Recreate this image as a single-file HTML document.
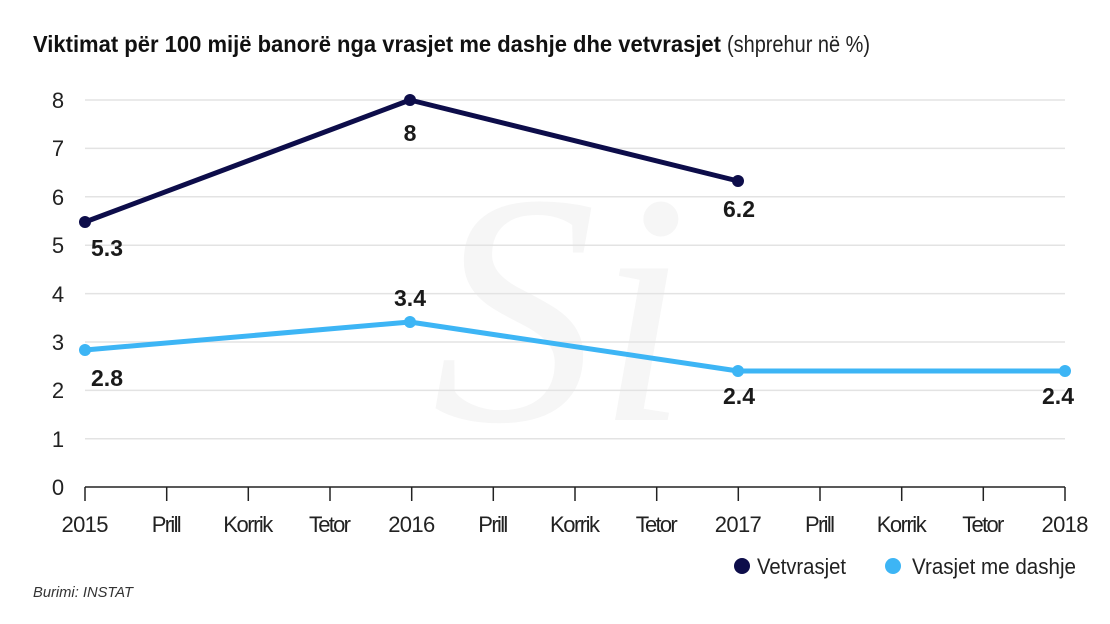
<!DOCTYPE html>
<html><head><meta charset="utf-8"><style>
body{margin:0;background:#fff;}
svg{display:block;font-family:"Liberation Sans",sans-serif;}
</style></head><body>
<svg width="1110" height="624" viewBox="0 0 1110 624">
<text x="33" y="52" font-size="23" font-weight="bold" fill="#111" textLength="688" lengthAdjust="spacingAndGlyphs">Viktimat për 100 mijë banorë nga vrasjet me dashje dhe vetvrasjet</text>
<text x="727" y="52" font-size="23" fill="#222" textLength="143" lengthAdjust="spacingAndGlyphs">(shprehur në %)</text>
<text x="560" y="420" font-size="330" font-family="Liberation Serif,serif" font-style="italic" fill="#f6f6f6" text-anchor="middle">Si</text>
<g stroke="#e3e3e3" stroke-width="1.5">
<line x1="85" x2="1065" y1="100" y2="100"/><line x1="85" x2="1065" y1="148.4" y2="148.4"/>
<line x1="85" x2="1065" y1="196.8" y2="196.8"/><line x1="85" x2="1065" y1="245.2" y2="245.2"/>
<line x1="85" x2="1065" y1="293.6" y2="293.6"/><line x1="85" x2="1065" y1="342" y2="342"/>
<line x1="85" x2="1065" y1="390.4" y2="390.4"/><line x1="85" x2="1065" y1="438.8" y2="438.8"/>
</g>
<g font-size="22" fill="#222" text-anchor="middle" lengthAdjust="spacingAndGlyphs">
<text x="58" y="108" textLength="12">8</text><text x="58" y="156" textLength="12">7</text><text x="58" y="205" textLength="12">6</text><text x="58" y="253" textLength="12">5</text>
<text x="58" y="302" textLength="12">4</text><text x="58" y="350" textLength="12">3</text><text x="58" y="398" textLength="12">2</text><text x="58" y="447" textLength="12">1</text><text x="58" y="495" textLength="12">0</text>
</g>
<g stroke="#222" stroke-width="1.5">
<line x1="85" x2="1065" y1="487" y2="487"/>
<line x1="85" x2="85" y1="487" y2="501"/><line x1="166.7" x2="166.7" y1="487" y2="501"/><line x1="248.3" x2="248.3" y1="487" y2="501"/><line x1="330" x2="330" y1="487" y2="501"/>
<line x1="411.7" x2="411.7" y1="487" y2="501"/><line x1="493.3" x2="493.3" y1="487" y2="501"/><line x1="575" x2="575" y1="487" y2="501"/><line x1="656.7" x2="656.7" y1="487" y2="501"/>
<line x1="738.3" x2="738.3" y1="487" y2="501"/><line x1="820" x2="820" y1="487" y2="501"/><line x1="901.7" x2="901.7" y1="487" y2="501"/><line x1="983.3" x2="983.3" y1="487" y2="501"/><line x1="1065" x2="1065" y1="487" y2="501"/>
</g>
<g font-size="22" fill="#222" text-anchor="middle" lengthAdjust="spacingAndGlyphs">
<text x="85" y="532" textLength="47">2015</text><text x="166.7" y="532" textLength="30">Prill</text><text x="248.3" y="532" textLength="50">Korrik</text><text x="330" y="532" textLength="42">Tetor</text>
<text x="411.7" y="532" textLength="47">2016</text><text x="493.3" y="532" textLength="30">Prill</text><text x="575" y="532" textLength="50">Korrik</text><text x="656.7" y="532" textLength="42">Tetor</text>
<text x="738.3" y="532" textLength="47">2017</text><text x="820" y="532" textLength="30">Prill</text><text x="901.7" y="532" textLength="50">Korrik</text><text x="983.3" y="532" textLength="42">Tetor</text><text x="1065" y="532" textLength="47">2018</text>
</g>
<polyline points="85,222 410,100 738,181" fill="none" stroke="#0d0d4a" stroke-width="5" stroke-linejoin="round"/>
<g fill="#0d0d4a"><circle cx="85" cy="222" r="6"/><circle cx="410" cy="100" r="6"/><circle cx="738" cy="181" r="6"/></g>
<polyline points="85,350 410,322 738,371 1065,371" fill="none" stroke="#3db5f5" stroke-width="5" stroke-linejoin="round"/>
<g fill="#3db5f5"><circle cx="85" cy="350" r="6"/><circle cx="410" cy="322" r="6"/><circle cx="738" cy="371" r="6"/><circle cx="1065" cy="371" r="6"/></g>
<g font-size="23" font-weight="bold" fill="#1a1a1a" text-anchor="middle" lengthAdjust="spacingAndGlyphs">
<text x="107" y="256" textLength="32">5.3</text><text x="410" y="141" textLength="14">8</text><text x="739" y="217" textLength="32">6.2</text>
<text x="107" y="386" textLength="32">2.8</text><text x="410" y="306" textLength="32">3.4</text><text x="739" y="404" textLength="32">2.4</text><text x="1058" y="404" textLength="32">2.4</text>
</g>
<circle cx="742" cy="566" r="8" fill="#0d0d4a"/>
<text x="757" y="574" font-size="22" fill="#222" textLength="89" lengthAdjust="spacingAndGlyphs">Vetvrasjet</text>
<circle cx="893" cy="566" r="8" fill="#3db5f5"/>
<text x="912" y="574" font-size="22" fill="#222" textLength="164" lengthAdjust="spacingAndGlyphs">Vrasjet me dashje</text>
<text x="33" y="597" font-size="15" font-style="italic" fill="#333" textLength="100" lengthAdjust="spacingAndGlyphs">Burimi: INSTAT</text>
</svg>
</body></html>
